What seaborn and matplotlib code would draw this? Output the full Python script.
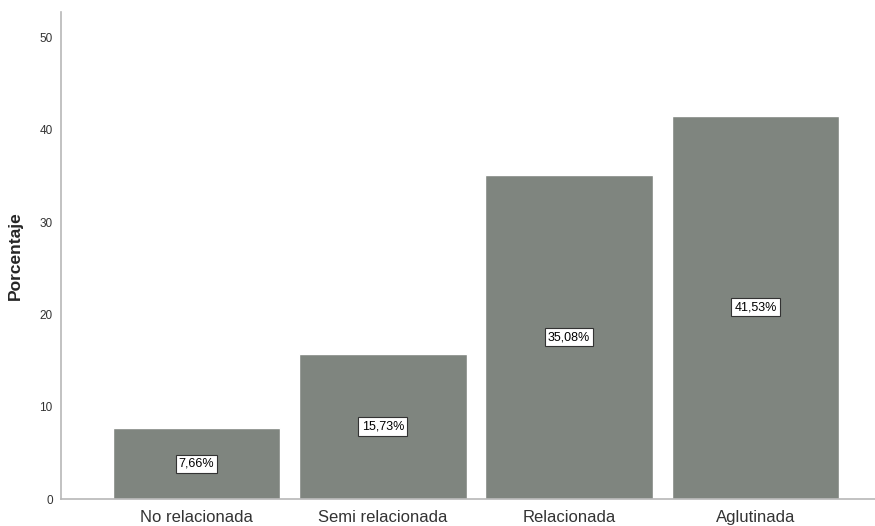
import pandas as pd
import seaborn as sns
import matplotlib.pyplot as plt

# Data
categorias = ['No relacionada', 'Semi relacionada', 'Relacionada', 'Aglutinada']
porcentajes = [7.66, 15.73, 35.08, 41.53]
etiquetas = ['7,66%', '15,73%', '35,08%', '41,53%']

df = pd.DataFrame({'Categoria': categorias, 'Porcentaje': porcentajes})

sns.set_style('white')
plt.rcParams['font.family'] = ['Liberation Sans', 'DejaVu Sans']

fig = plt.figure(figsize=(8.75, 5.26), dpi=100)
ax = fig.add_axes([61 / 875, 1 - 499 / 526, 1 - 61 / 875, (499 - 12) / 526])

sns.barplot(data=df, x='Categoria', y='Porcentaje', color='#7f857f',
            saturation=1, width=0.9, ax=ax)

# value labels in white boxes, centered in each bar
for i, (v, lab) in enumerate(zip(porcentajes, etiquetas)):
    ax.text(i, v / 2, lab, ha='center', va='center', fontsize=9, color='black',
            bbox=dict(boxstyle='square,pad=0.25', facecolor='white',
                      edgecolor='#333333', linewidth=0.8))

ax.set_xlim(-0.727, 3.642)
ax.set_ylim(0, 52.76)
ax.set_yticks([0, 10, 20, 30, 40, 50])
ax.tick_params(axis='y', length=0, pad=6, labelsize=8.5, labelcolor='#333333')
ax.tick_params(axis='x', length=0, pad=8, labelsize=12, labelcolor='#333333')

ax.set_xlabel('')
ax.set_ylabel('Porcentaje', fontsize=12.5, fontweight='bold', labelpad=12)

for side in ['top', 'right']:
    ax.spines[side].set_visible(False)
for side in ['left', 'bottom']:
    ax.spines[side].set_color('#b8b8b8')
    ax.spines[side].set_linewidth(1.2)

plt.savefig('out.png', dpi=100)
